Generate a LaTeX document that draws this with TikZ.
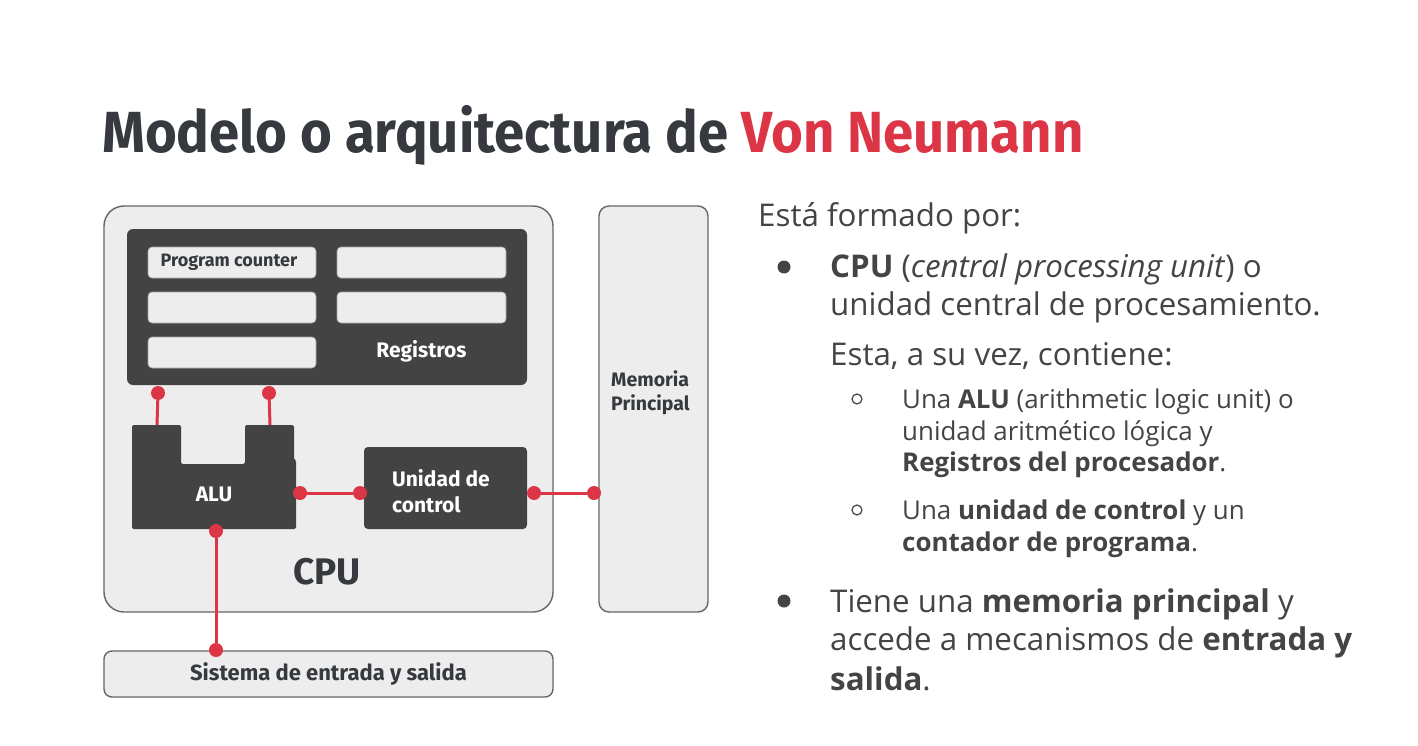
\documentclass[tikz,border=0pt]{standalone}
\usepackage{fontspec}
\setmainfont{Open Sans}
\newfontfamily\sqfont{Fira Sans}
\newfontfamily\headfont{Fira Sans}[FakeStretch=0.94]
\definecolor{ink}{HTML}{363A3F}
\definecolor{accent}{HTML}{DC3545}
\definecolor{panel}{HTML}{EDEDED}
\definecolor{dark}{HTML}{434343}
\definecolor{edge}{HTML}{666666}
\definecolor{bodytext}{HTML}{444444}
\tikzset{
  lightbox/.style={draw=edge, line width=1.4pt, fill=panel, inner sep=0pt, rounded corners=#1},
  lightbox/.default=8pt,
  darkbox/.style={fill=dark, inner sep=0pt, rounded corners=6pt},
  slot/.style={fill=panel, draw=edge!60, line width=0.6pt, inner sep=0pt, rounded corners=4pt,
               minimum height=31pt},
  dot/.style={circle, fill=accent, inner sep=0pt, minimum size=14pt},
  wire/.style={draw=accent, line width=3pt},
  lbl/.style={font=\sqfont\bfseries\fontsize{21}{26}\selectfont, inner sep=0pt},
  txt/.style={anchor=base west, inner sep=0pt, text=bodytext, font=\fontsize{31.3}{38}\selectfont},
  subtxt/.style={anchor=base west, inner sep=0pt, text=bodytext, font=\fontsize{25.9}{30}\selectfont},
}
\begin{document}
\begin{tikzpicture}[x=1pt, y=-1pt]
  \useasboundingbox[fill=white] (0,0) rectangle (1418,746);

  % heading
  \node[anchor=base west, inner sep=0pt, text=ink,
        font=\headfont\bfseries\fontsize{58}{64}\selectfont] (title) at (102,153)
        {Modelo o arquitectura de \textcolor{accent}{Von Neumann}};

  % CPU enclosure
  \node[lightbox=20pt, minimum width=449pt, minimum height=406pt] (cpu) at (328.5,409) {};
  \node[lbl, text=ink, font=\sqfont\bfseries\fontsize{37}{40}\selectfont, anchor=base] (cpulbl) at (327,584) {CPU};

  % register file
  \node[darkbox, minimum width=400pt, minimum height=156pt] (reg) at (327,307) {};
  \node[slot, minimum width=168pt] (s1) at (232,262.5) {};
  \node[slot, minimum width=169pt] (s2) at (421.5,262.5) {};
  \node[slot, minimum width=168pt] (s3) at (232,307.5) {};
  \node[slot, minimum width=169pt] (s4) at (421.5,307.5) {};
  \node[slot, minimum width=168pt] (s5) at (232,352.5) {};
  \node[lbl, text=ink, font=\sqfont\bfseries\fontsize{18}{22}\selectfont] (pc) at (229,262.5) {Program counter};
  \node[lbl, text=white, anchor=base] (reglbl) at (421.5,357) {Registros};

  % arithmetic logic unit
  \fill[dark, rounded corners=2pt] (132,425) -- (181,425) -- (181,464) -- (245,464) -- (245,425)
        -- (294,425) -- (294,460) -- (296,460) -- (296,529) -- (132,529) -- cycle;
  \node[lbl, text=white] (alu) at (214,494) {ALU};
  \coordinate (alutl) at (157,425);
  \coordinate (alutr) at (270,425);

  % control unit
  \node[darkbox, rounded corners=4pt, minimum width=163pt, minimum height=82pt] (uc) at (445.5,488) {};
  \node[lbl, text=white, anchor=base west] (uc1) at (392,486) {Unidad de};
  \node[lbl, text=white, anchor=base west] (uc2) at (392,512) {control};

  % main memory
  \node[lightbox=10pt, minimum width=109pt, minimum height=406pt] (mem) at (653.5,409) {};
  \node[lbl, text=ink, font=\sqfont\bfseries\fontsize{19.5}{24}\selectfont, anchor=base west] (mem1) at (611,386) {Memoria};
  \node[lbl, text=ink, font=\sqfont\bfseries\fontsize{19.5}{24}\selectfont, anchor=base west] (mem2) at (611,410) {Principal};

  % input / output
  \node[lightbox=8pt, minimum width=449pt, minimum height=46pt] (io) at (328.5,674) {};
  \node[lbl, text=ink, font=\sqfont\bfseries\fontsize{22}{24}\selectfont] (iolbl) at (io) {Sistema de entrada y salida};

  % buses
  \node[dot] (r1) at (158,393) {};
  \node[dot] (r2) at (269,393) {};
  \draw[wire] (r1) -- (alutl);
  \draw[wire] (r2) -- (alutr);
  \node[dot] (a1) at (300,493) {};
  \node[dot] (c1) at (360,493) {};
  \draw[wire] (a1) -- (c1);
  \node[dot] (c2) at (534,493) {};
  \node[dot] (m1) at (594,493) {};
  \draw[wire] (c2) -- (m1);
  \node[dot] (a2) at (216,531) {};
  \node[dot] (i1) at (216,650) {};
  \draw[wire] (a2) -- (i1);

  % description
  \node[txt] (t0) at (758,226) {Está formado por:};
  \fill[bodytext] (784,267) circle (6.5pt);
  \node[txt] (t1) at (830,277) {\textbf{CPU} (\textit{central processing unit}) o};
  \node[txt] (t2) at (830,315) {unidad central de procesamiento.};
  \node[txt] (t3) at (830,365) {Esta, a su vez, contiene:};
  \draw[bodytext, line width=1.2pt] (857,399) circle (5pt);
  \node[subtxt] (u1) at (902,408) {Una \textbf{ALU} (arithmetic logic unit) o};
  \node[subtxt] (u2) at (902,440) {unidad aritmético lógica y};
  \node[subtxt] (u3) at (902,471) {\textbf{Registros del procesador}.};
  \draw[bodytext, line width=1.2pt] (857,510) circle (5pt);
  \node[subtxt] (u4) at (902,519) {Una \textbf{unidad de control} y un};
  \node[subtxt] (u5) at (902,551) {\textbf{contador de programa}.};
  \fill[bodytext] (784,601) circle (6.5pt);
  \node[txt] (t4) at (830,612) {Tiene una \textbf{memoria principal} y};
  \node[txt] (t5) at (830,650) {accede a mecanismos de \textbf{entrada y}};
  \node[txt] (t6) at (830,690) {\textbf{salida}.};
\end{tikzpicture}
\end{document}
